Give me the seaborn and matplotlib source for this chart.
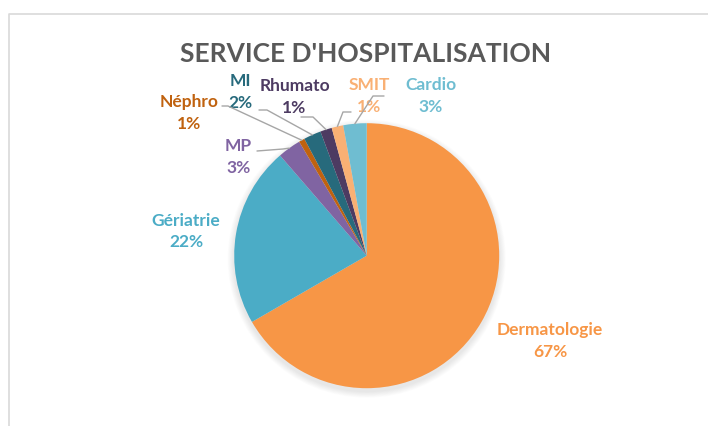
import numpy as np
import matplotlib
matplotlib.use("Agg")
import matplotlib.pyplot as plt
import seaborn as sns

# Données (nombre de patients par service)
services = ["Dermatologie", "Gériatrie", "MP", "Néphro", "MI", "Rhumato", "SMIT", "Cardio"]
patients = [94, 31, 4, 1, 3, 2, 2, 4]
colors = ["#F79646", "#4BACC6", "#8064A2", "#C0620F", "#276A7C", "#4D3B62", "#F9B074", "#6FBDD1"]
title = "SERVICE D'HOSPITALISATION"

sns.set_theme(style="white")
plt.rcParams["font.family"] = ["Lato", "DejaVu Sans"]

W, H = 708, 427
fig = plt.figure(figsize=(W / 100, H / 100), dpi=100)
ax = fig.add_axes([0, 0, 1, 1])

# pie placement in pixel space (y up)
cx, cy, r = 366.7, H - 256.7, 132.5

# soft shadow under the pie
for k in range(8):
    ax.add_patch(plt.Circle((cx, cy - 3), r + 1 + k * 0.8, color="black",
                            alpha=0.012, lw=0, zorder=0))

wedges, _ = ax.pie(patients, colors=colors, startangle=90, counterclock=False,
                   center=(cx, cy), radius=r, frame=True,
                   wedgeprops=dict(linewidth=0, zorder=2))

total = sum(patients)
pcts = [round(100 * v / total) for v in patients]

# label centres (pixels, y down)
label_pos = [(550, 341), (186, 231.5), (238.5, 157), (189, 113), (240, 92),
             (294.5, 97), (369.5, 96), (430.5, 96)]
# leader lines: start and elbow (pixels, y down), None = no line
leaders = [None, None, ((257, 152), (283, 150)), ((222, 107), (228, 107)),
           ((259, 111), (267, 111)), ((301, 118), (313, 118)),
           ((351, 113), (343, 113)), ((384, 97), (373, 97))]

for w, name, p, col, (lx, ly), ld in zip(wedges, services, pcts, colors, label_pos, leaders):
    ax.text(lx, H - ly, f"{name}\n{p}%", ha="center", va="center", color=col,
            fontsize=12.5, fontweight="bold", linespacing=1.4, zorder=3)
    if ld is not None:
        mid = np.deg2rad((w.theta1 + w.theta2) / 2)
        ex, ey = cx + r * np.cos(mid), cy + r * np.sin(mid)
        (sx, sy), (bx, by) = ld
        ax.plot([sx, bx, ex], [H - sy, H - by, ey], color="#A6A6A6", lw=1, zorder=4)

ax.text(366, H - 54, title, ha="center", va="center", fontsize=19,
        fontweight="bold", color="#595959")

# chart area border (only top and left visible)
ax.plot([9, 9, W + 5], [-5, H - 15, H - 15], color="#D9D9D9", lw=1.2, clip_on=False)

ax.set_xlim(0, W)
ax.set_ylim(0, H)
ax.set_aspect("equal")
ax.axis("off")

fig.savefig("out.png", dpi=100)
